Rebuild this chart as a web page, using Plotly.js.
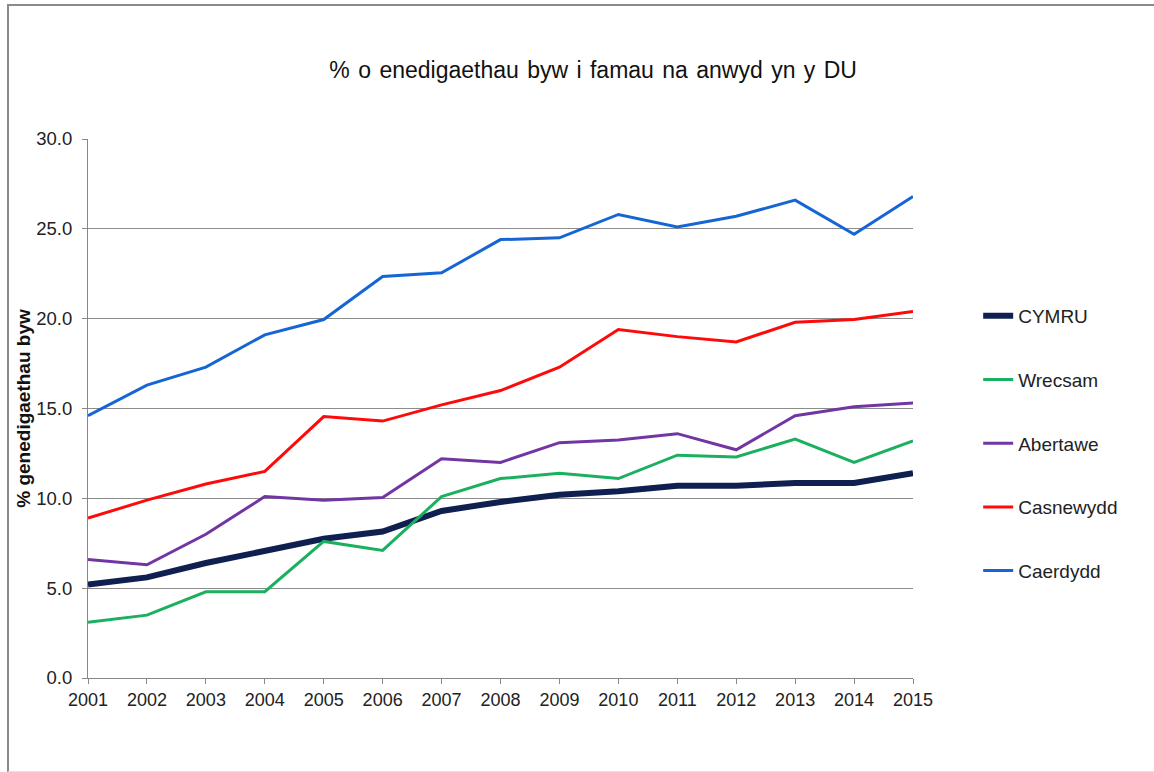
<!DOCTYPE html>
<html>
<head>
<meta charset="utf-8">
<script src="https://cdn.plot.ly/plotly-3.0.1.min.js"></script>
<style>
  html, body { margin: 0; padding: 0; background: #fff; }
  #chart { width: 1154px; height: 772px; position: absolute; left: 0; top: 0; }
  #chart .gtitle { word-spacing: 2px; }
  #frame {
    position: absolute; left: 7px; top: 4px; width: 1147px; height: 765px;
    border-left: 2px solid #8a8a8a; border-top: 2px solid #8a8a8a;
    border-bottom: 1px solid #e4e4e4; pointer-events: none;
  }
</style>
</head>
<body>
<div id="chart"></div>
<div id="frame"></div>
<script>
const years = [2001, 2002, 2003, 2004, 2005, 2006, 2007, 2008, 2009, 2010, 2011, 2012, 2013, 2014, 2015];

const cymru     = [5.2, 5.6, 6.4, 7.1, 7.75, 8.15, 9.3, 9.8, 10.2, 10.4, 10.7, 10.7, 10.85, 10.85, 11.4];
const wrecsam   = [3.1, 3.5, 4.8, 4.8, 7.6, 7.1, 10.1, 11.1, 11.4, 11.1, 12.4, 12.3, 13.3, 12.0, 13.2];
const abertawe  = [6.6, 6.3, 8.0, 10.1, 9.9, 10.05, 12.2, 12.0, 13.1, 13.25, 13.6, 12.7, 14.6, 15.1, 15.3];
const casnewydd = [8.9, 9.9, 10.8, 11.5, 14.55, 14.3, 15.2, 16.0, 17.3, 19.4, 19.0, 18.7, 19.8, 19.95, 20.4];
const caerdydd  = [14.6, 16.3, 17.3, 19.1, 19.95, 22.35, 22.55, 24.4, 24.5, 25.8, 25.1, 25.7, 26.6, 24.7, 26.8];

const yTicks = [0, 5, 10, 15, 20, 25, 30];

function line(name, values, color, width) {
    return {
        x: years,
        y: values,
        name: name,
        legendgroup: name,
        mode: "lines",
        type: "scatter",
        line: { color: color, width: width },
        hoverinfo: "x+y+name"
    };
}

const traces = [
    line("CYMRU", cymru, "#0f2050", 6),
    line("Wrecsam", wrecsam, "#1ab060", 3),
    line("Abertawe", abertawe, "#7236a3", 3),
    line("Casnewydd", casnewydd, "#ff0a0a", 3),
    line("Caerdydd", caerdydd, "#1565d4", 3)
];

const font = "'Liberation Sans', Arial, sans-serif";

const layout = {
    width: 1154,
    height: 772,
    margin: { l: 88, r: 241, t: 139, b: 94 },
    paper_bgcolor: "#ffffff",
    plot_bgcolor: "#ffffff",
    font: { family: font, color: "#222", size: 18 },
    title: {
        text: "% o enedigaethau byw i famau na anwyd yn y DU",
        font: { family: font, size: 23, color: "#111" },
        x: 0.514, xref: "container", xanchor: "center",
        y: 0.91, yref: "container", yanchor: "middle"
    },
    xaxis: {
        range: [2001, 2015],
        tickvals: years,
        ticktext: years.map(String),
        ticks: "outside",
        ticklen: 5,
        tickcolor: "#888",
        showgrid: false,
        showline: true,
        linecolor: "#888",
        linewidth: 1,
        zeroline: false,
        tickfont: { size: 18, color: "#222" },
        fixedrange: true
    },
    yaxis: {
        range: [0, 30],
        tickvals: yTicks,
        tickformat: ".1f",
        ticks: "outside",
        ticklen: 5,
        tickcolor: "#888",
        ticklabelstandoff: 6,
        showgrid: true,
        gridcolor: "#8c8c8c",
        gridwidth: 1,
        showline: true,
        linecolor: "#888",
        linewidth: 1,
        zeroline: false,
        tickfont: { size: 18.5, color: "#222" },
        title: {
            text: "<b>% genedigaethau byw</b>",
            font: { size: 19, color: "#111" },
            standoff: 0
        },
        fixedrange: true
    },
    showlegend: true,
    legend: {
        x: 1.079,
        xanchor: "left",
        y: 0.707,
        yanchor: "top",
        font: { size: 19, color: "#222" },
        tracegroupgap: 36,
        traceorder: "grouped",
        bgcolor: "rgba(0,0,0,0)"
    }
};

Plotly.newPlot("chart", traces, layout, { displayModeBar: false, staticPlot: true });
</script>
</body>
</html>
